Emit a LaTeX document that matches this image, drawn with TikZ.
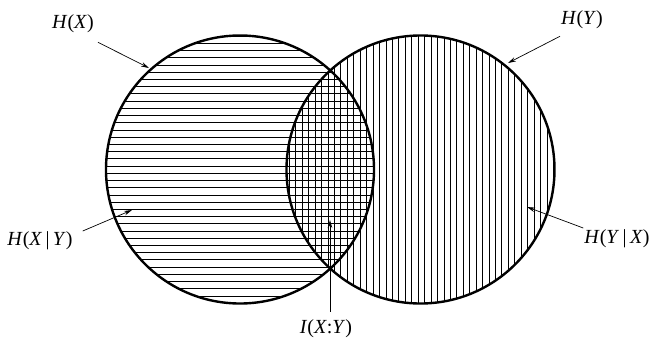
\documentclass[tikz,border=0pt]{standalone}
\usepackage{fontspec}
\setmainfont{Liberation Serif}
\usetikzlibrary{arrows.meta}
\begin{document}
\begin{tikzpicture}[x=1pt,y=-1pt,
  lbl/.style={font=\fontsize{20}{24}\selectfont, inner sep=0pt},
  ptr/.style={-{Stealth[length=8pt,width=4.5pt]}, line width=0.7pt},
  hatch/.style={line width=0.9pt},
  rim/.style={line width=2.4pt}]
\useasboundingbox (0,0) rectangle (652,338);
\coordinate (cx) at (240,169.5);
\coordinate (cy) at (420.5,169.5);
\begin{scope}
  \clip (cx) circle (134pt);
  \foreach \k in {-20,...,20} \draw[hatch] (100,173.3+7.22*\k) -- (380,173.3+7.22*\k);
\end{scope}
\begin{scope}
  \clip (cy) circle (134pt);
  \foreach \k in {-17,...,28} \draw[hatch] (386+6.44*\k,30) -- (386+6.44*\k,310);
\end{scope}
\draw[rim] (cx) circle (134pt);
\draw[rim] (cy) circle (134pt);
% labels
\node[lbl] (hx) at (73,24) {\textit{H}(\textit{X})};
\node[lbl] (hy) at (582,20) {\textit{H}(\textit{Y})};
\node[lbl] (hxy) at (40,241) {\textit{H}(\textit{X}\,|\,\textit{Y})};
\node[lbl] (hyx) at (617,239) {\textit{H}(\textit{Y}\,|\,\textit{X})};
\node[lbl] (ixy) at (326,329) {\textit{I}(\textit{X}:\textit{Y})};
% arrow targets
\coordinate (tx) at (149,68);
\coordinate (ty) at (508,63);
\coordinate (txy) at (132,210);
\coordinate (tyx) at (527,207);
\coordinate (tixy) at (330,220);
\draw[ptr] ([shift={(4,9)}]hx.south east) -- (tx);
\draw[ptr] ([shift={(-1,7)}]hy.south west) -- (ty);
\draw[ptr] ([shift={(10,-10)}]hxy.east) -- (txy);
\draw[ptr] ([shift={(-1,-11)}]hyx.west) -- (tyx);
\draw[ptr] ([shift={(4,-8)}]ixy.north) -- (tixy);
\end{tikzpicture}
\end{document}
